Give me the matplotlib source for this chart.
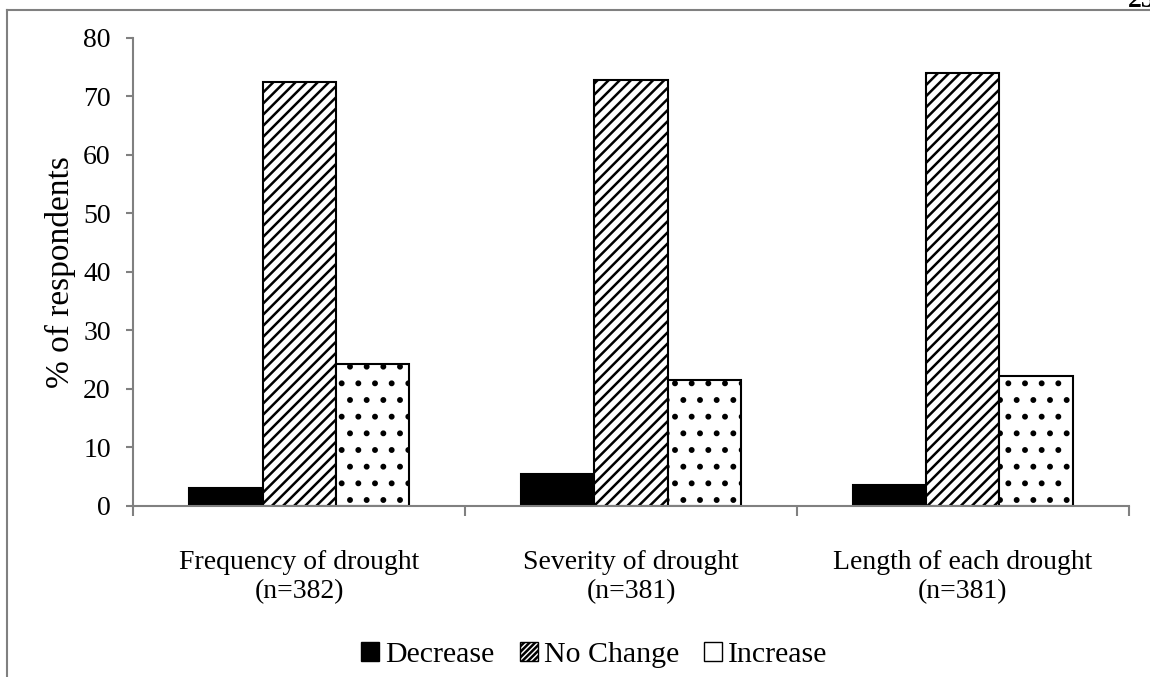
import matplotlib
matplotlib.use("Agg")
import matplotlib.pyplot as plt
import numpy as np
from matplotlib.lines import Line2D
from matplotlib.patches import Patch

categories = ["Frequency of drought\n(n=382)", "Severity of drought\n(n=381)", "Length of each drought\n(n=381)"]
series_names = ["Decrease", "No Change", "Increase"]
decrease = [3.0, 5.4, 3.6]
no_change = [72.5, 72.9, 74.0]
increase = [24.3, 21.5, 22.2]
yticks = [0, 10, 20, 30, 40, 50, 60, 70, 80]

plt.rcParams['font.family'] = ['Liberation Serif', 'DejaVu Serif']
plt.rcParams['hatch.linewidth'] = 1.8

fig = plt.figure(figsize=(11.5, 6.77), dpi=100)
ax = fig.add_axes([0.1157, 0.2526, 0.866, 0.6913])

x = np.arange(len(categories))
w = 0.22
gray = '#808080'
ax.bar(x - w, decrease, w, color='black', edgecolor='black', linewidth=1.5, label=series_names[0], zorder=2)
ax.bar(x, no_change, w, color='white', edgecolor='black', hatch='///', linewidth=1.5, label=series_names[1], zorder=2)
ax.bar(x + w, increase, w, color='white', edgecolor='black', hatch='.', linewidth=1.5, label=series_names[2], zorder=2)

ax.set_xlim(-0.5, len(categories) - 0.5)
ax.set_ylim(0, 80)
ax.set_yticks(yticks)
ax.set_xticks(x)
ax.set_xticklabels(categories, fontsize=20, linespacing=1.2)
ax.set_xticks(np.arange(-0.5, len(categories), 1.0), minor=True)
ax.tick_params(axis='x', which='major', length=0, pad=32)
ax.tick_params(axis='x', which='minor', length=7, color=gray, width=1.5, direction='out')
ax.tick_params(axis='y', length=5, color=gray, width=1.5, direction='out', labelsize=20, pad=11)
for s in ['top', 'right']:
    ax.spines[s].set_visible(False)
for s in ['left', 'bottom']:
    ax.spines[s].set_color(gray)
    ax.spines[s].set_linewidth(1.5)
    ax.spines[s].set_zorder(3)
ax.set_ylabel("% of respondents", fontsize=24, labelpad=5)

handles = [Patch(facecolor='black', edgecolor='black'),
           Patch(facecolor='white', edgecolor='black', hatch='//////'),
           Patch(facecolor='white', edgecolor='black')]
fig.legend(handles, series_names, loc='center', bbox_to_anchor=(0.517, 0.033), ncol=3, frameon=False,
           fontsize=21.5, handlelength=0.6, handleheight=0.6, handletextpad=0.2, columnspacing=0.85)

# page frame
fig.add_artist(Line2D([7/1150, 7/1150], [0, 1 - 10/677], color=gray, linewidth=1.5))
fig.add_artist(Line2D([7/1150, 1], [1 - 10/677, 1 - 10/677], color=gray, linewidth=1.5))
fig.text(1.005, 1 - 7/677, "23", ha='right', va='baseline', fontsize=20, fontweight='bold')

fig.savefig("out.png", dpi=100)
